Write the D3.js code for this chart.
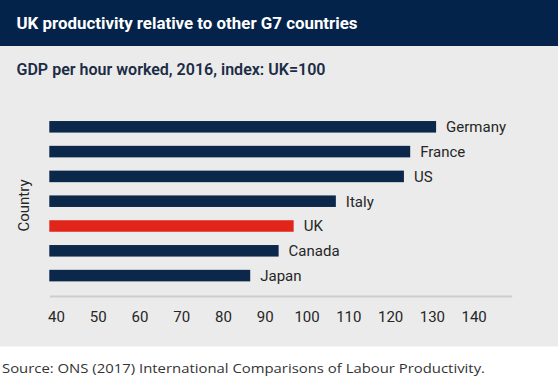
<!DOCTYPE html>
<html><head><meta charset="utf-8">
<script src="https://cdn.jsdelivr.net/npm/d3@7"></script>
<style>body{margin:0;background:#fff} svg{display:block}</style>
</head><body><svg id="c" width="560" height="381"></svg>
<script>
const countries = ["Germany","France","US","Italy","UK","Canada","Japan"];
const values = [134.1, 127.9, 126.4, 110.1, 100, 96.4, 89.6];
const highlight = "UK";
const tickValues = [40,50,60,70,80,90,100,110,120,130,140];
const xDomain = [41.5, 152.2];
const title = "UK productivity relative to other G7 countries";
const subtitle = "GDP per hour worked, 2016, index: UK=100";
const yLabel = "Country";
const source = "Source: ONS (2017) International Comparisons of Labour Productivity.";

const navy = "#0b2749", red = "#e2251b", panel = "#ebebeb";
const svg = d3.select("#c");

svg.append("rect").attr("x",0).attr("y",0).attr("width",558).attr("height",346.5).attr("fill",panel);
svg.append("rect").attr("x",0).attr("y",0).attr("width",558).attr("height",46).attr("fill","#03234a");

svg.append("text").attr("x",16.5).attr("y",29)
  .attr("font-family","Roboto, 'Open Sans', sans-serif").attr("font-weight",700).attr("font-size",17)
  .attr("fill","#fff").attr("textLength",341).attr("lengthAdjust","spacingAndGlyphs").text(title);

svg.append("text").attr("x",16.5).attr("y",75)
  .attr("font-family","Roboto, 'Open Sans', sans-serif").attr("font-weight",600).attr("font-size",16)
  .attr("fill","#1c2c45").attr("textLength",309).attr("lengthAdjust","spacingAndGlyphs").text(subtitle);

const x = d3.scaleLinear().domain(xDomain).range([49.3, 511.7]);
const y = d3.scaleBand().domain(countries).range([114.4, 288]).paddingInner(0.535).paddingOuter(0.2675);

const data = countries.map((c,i)=>({c, v: values[i]}));

svg.append("g").selectAll("rect").data(data).join("rect")
  .attr("x", x(xDomain[0]))
  .attr("y", d => y(d.c))
  .attr("width", d => x(d.v) - x(xDomain[0]))
  .attr("height", y.bandwidth())
  .attr("fill", d => d.c === highlight ? red : navy);

svg.append("g").selectAll("text").data(data).join("text")
  .attr("x", d => x(d.v) + 10)
  .attr("y", d => y(d.c) + y.bandwidth()/2)
  .attr("dy","0.36em")
  .attr("font-family","Roboto, sans-serif").attr("font-size",15).attr("fill","#262626")
  .text(d => d.c);

const ax = svg.append("g").attr("transform","translate(0,296)")
  .call(d3.axisBottom(x).tickValues(tickValues).tickSize(0).tickSizeOuter(0).tickPadding(15).tickFormat(d3.format("d")));
ax.select(".domain").attr("stroke","#cdcdcd").attr("stroke-width",2);
ax.selectAll("text").attr("dx",12.9).attr("font-family","Roboto, sans-serif").attr("font-size",15).attr("fill","#262626");

svg.append("text").attr("transform","translate(29,205.5) rotate(-90)")
  .attr("text-anchor","middle").attr("font-family","Roboto, sans-serif").attr("font-size",15).attr("fill","#262626")
  .text(yLabel);

svg.append("text").attr("x",2).attr("y",372.7)
  .attr("font-family","'Open Sans', Roboto, sans-serif").attr("font-size",12).attr("fill","#333")
  .attr("textLength",483).attr("lengthAdjust","spacingAndGlyphs").text(source);
</script></body></html>
